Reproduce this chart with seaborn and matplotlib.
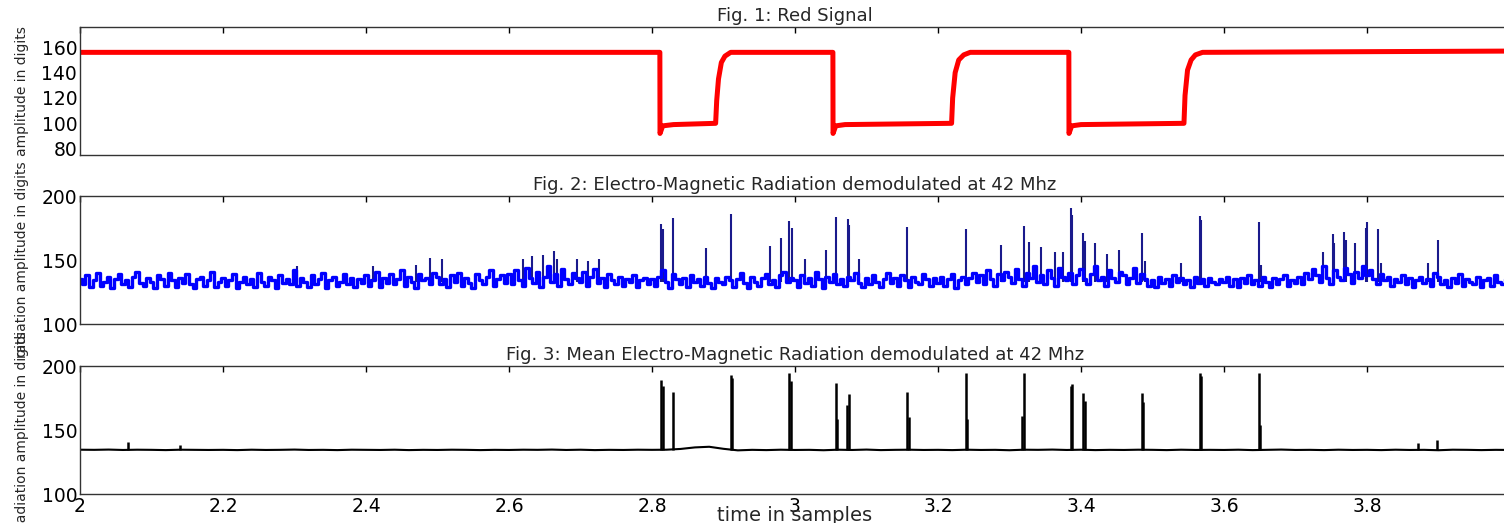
import matplotlib
matplotlib.use('Agg')
import matplotlib.pyplot as plt
import seaborn as sns
import numpy as np
from matplotlib.ticker import FormatStrFormatter, MultipleLocator

# Fig. 1: nivel de la señal roja (puntos de quiebre)
red_t = [2.0, 2.811, 2.8112, 2.815, 2.83, 2.889, 2.8905, 2.893, 2.897, 2.902, 2.91,
         3.053, 3.0532, 3.057, 3.07, 3.219, 3.2205, 3.224, 3.229, 3.236, 3.245,
         3.383, 3.3832, 3.387, 3.40, 3.544, 3.5455, 3.549, 3.554, 3.56, 3.57, 4.0]
red_v = [156, 156, 92, 98, 99, 100, 118, 135, 148, 153, 156,
         156, 92, 98, 99, 100, 120, 140, 150, 154, 156,
         156, 92, 98, 99, 100, 122, 142, 150, 154, 156, 157]

# Fig. 2: banda de ruido EMR, una muestra cada 0.005 desde t=2
emr_t0 = 2.0
emr_dt = 0.005
emr_band = [
    135, 131, 138, 129, 134, 140, 130, 133, 137, 128, 135, 139, 131, 134, 129, 137, 141, 132, 130, 136,
    133, 128, 138, 135, 130, 140, 134, 129, 136, 132, 139, 131, 128, 135, 137, 130, 134, 141, 129, 133,
    136, 130, 134, 139, 128, 133, 137, 131, 135, 129, 140, 133, 130, 137, 134, 128, 138, 132, 135, 131,
    142, 130, 136, 133, 129, 138, 131, 135, 140, 128, 134, 137, 130, 133, 139, 131, 136, 129, 135, 132,
    138, 130, 134, 141, 129, 136, 132, 139, 131, 135, 142, 130, 137, 133, 128, 139, 134, 136, 131, 140,
    137, 131, 135, 129, 138, 133, 140, 130, 136, 132, 128, 139, 134, 131, 137, 142, 130, 135, 138, 132,
    139, 131, 142, 134, 130, 144, 136, 132, 141, 129, 137, 145, 133, 139, 130, 143, 135, 131, 140, 136,
    133, 141, 130, 137, 143, 132, 136, 129, 139, 134, 131, 137, 130, 135, 133, 138, 129, 134, 136, 131,
    135, 130, 137, 142, 133, 128, 139, 135, 131, 136, 129, 138, 133, 135, 130, 137, 132, 128, 136, 133,
    131, 137, 134, 129, 135, 140, 132, 128, 137, 133, 130, 136, 139, 131, 134, 129, 138, 141, 133, 136,
    134, 129, 138, 132, 136, 130, 141, 135, 128, 137, 133, 139, 131, 135, 130, 137, 134, 140, 132, 129,
    136, 131, 138, 133, 129, 135, 140, 132, 136, 130, 138, 134, 129, 137, 133, 131, 139, 135, 130, 136,
    132, 137, 130, 135, 139, 128, 134, 137, 131, 136, 140, 133, 138, 131, 142, 135, 130, 139, 134, 141,
    137, 132, 143, 135, 130, 140, 136, 145, 133, 138, 131, 142, 136, 130, 144, 137, 134, 140, 131, 138,
    143, 135, 131, 139, 145, 134, 137, 130, 142, 136, 133, 141, 138, 131, 136, 144, 132, 139, 135, 130,
    134, 129, 137, 132, 135, 130, 138, 133, 136, 131, 134, 129, 137, 132, 135, 130, 136, 133, 131, 135,
    133, 137, 130, 135, 129, 136, 132, 138, 131, 134, 130, 137, 133, 129, 136, 131, 135, 138, 130, 134,
    132, 137, 131, 140, 135, 143, 138, 133, 145, 136, 131, 142, 137, 134, 144, 139, 132, 141, 136, 145,
    138, 142, 135, 131, 139, 134, 137, 130, 135, 133, 138, 131, 136, 129, 134, 137, 132, 135, 130, 140,
    137, 131, 134, 129, 136, 132, 139, 130, 135, 133, 131, 137, 129, 134, 136, 130, 138, 133, 131, 135,
    134,
]
# picos sobre la banda (tiempo, altura)
emr_spike_t = [2.303, 2.41, 2.47, 2.49, 2.506, 2.62, 2.632, 2.648, 2.663, 2.667, 2.695, 2.71, 2.726,
               2.8126, 2.815, 2.829, 2.876, 2.910, 2.965, 2.980, 2.992, 2.996, 3.014, 3.043, 3.058,
               3.074, 3.076, 3.09, 3.157, 3.239, 3.288, 3.320, 3.327, 3.344, 3.364, 3.375, 3.386,
               3.388, 3.403, 3.405, 3.42, 3.436, 3.453, 3.485, 3.49, 3.540, 3.566, 3.568, 3.649,
               3.652, 3.738, 3.752, 3.754, 3.768, 3.770, 3.783, 3.798, 3.800, 3.815, 3.82, 3.885, 3.899]
emr_spike_h = [145, 145, 146, 151.5, 151, 151, 153, 154, 157, 151, 151, 149, 151,
               178, 174, 183, 159, 186, 161, 167, 180.5, 175, 151, 158, 183.6,
               182, 177, 151, 176, 174, 162, 176.5, 164, 160, 156, 156, 191,
               185, 171, 165, 163, 155, 158, 171, 149, 148, 184, 181, 180,
               146, 156, 170, 163, 171.5, 166, 163, 175, 180, 174, 148, 148, 165.6]
emr_floor = 133

# Fig. 3: media EMR, una muestra cada 0.02 desde t=2
mean_t0 = 2.0
mean_dt = 0.02
mean_base = [
    134.6, 134.5, 134.7, 134.4, 134.6, 134.5, 134.3, 134.6, 134.5, 134.4,
    134.5, 134.3, 134.6, 134.4, 134.5, 134.7, 134.4, 134.5, 134.3, 134.6,
    134.5, 134.4, 134.6, 134.3, 134.5, 134.4, 134.6, 134.5, 134.3, 134.5,
    134.4, 134.6, 134.5, 134.7, 134.4, 134.6, 134.3, 134.5, 134.4, 134.6,
    134.5, 134.6, 135.2, 136.4, 136.9, 135.3, 134.1, 134.5, 134.3, 134.6,
    134.4, 134.5, 134.2, 134.6, 134.4, 134.7, 134.3, 134.5, 134.6, 134.4,
    134.5, 134.3, 134.6, 134.4, 134.5, 134.2, 134.6, 134.5, 134.7, 134.4,
    134.6, 134.3, 134.5, 134.4, 134.6, 134.5, 134.3, 134.6, 134.4, 134.5,
    134.4, 134.6, 134.3, 134.5, 134.7, 134.4, 134.5, 134.3, 134.6, 134.4,
    134.5, 134.3, 134.6, 134.4, 134.5, 134.2, 134.6, 134.5, 134.3, 134.5,
    134.4,
]
mean_spike_t = [2.067, 2.14, 2.8126, 2.815, 2.829, 2.910, 2.912, 2.992, 2.994, 3.057, 3.059,
                3.073, 3.075, 3.157, 3.159, 3.239, 3.241, 3.318, 3.320, 3.386, 3.388, 3.403,
                3.405, 3.485, 3.487, 3.566, 3.568, 3.649, 3.651, 3.871, 3.898]
mean_spike_h = [141, 138, 189, 184, 180, 193, 191, 194.5, 188, 187, 158.6,
                169.5, 178, 180, 160, 194.5, 158.6, 161, 194.5, 184, 186, 179,
                173, 179, 172, 194.5, 192, 194.5, 154, 140, 142]
mean_floor = 134.5

titulos = ['Fig. 1: Red Signal',
           'Fig. 2: Electro-Magnetic Radiation demodulated at 42 Mhz',
           'Fig. 3: Mean Electro-Magnetic Radiation demodulated at 42 Mhz']
etiquetas_y = ['amplitude in digits', 'radiation amplitude in digits', 'radiation amplitude in digits']

sns.set_theme(style='white')
plt.rcParams['font.family'] = ['DejaVu Sans']

fig = plt.figure(figsize=(15.04, 5.23), dpi=100)
izq, ancho, alto = 80 / 1504, 1430 / 1504, 128 / 523
ax1 = fig.add_axes([izq, 1 - 155 / 523, ancho, alto])
ax2 = fig.add_axes([izq, 1 - 324 / 523, ancho, alto])
ax3 = fig.add_axes([izq, 1 - 494 / 523, ancho, alto])

# 1. Señal roja
sns.lineplot(x=red_t, y=red_v, ax=ax1, color=(1, 0, 0), linewidth=3.6, estimator=None, sort=False)
ax1.set_ylim(75, 176)
ax1.yaxis.set_major_locator(MultipleLocator(20))

# 2. Radiación
t_emr = emr_t0 + emr_dt * np.arange(len(emr_band))
ax2.vlines(emr_spike_t, emr_floor, emr_spike_h, color='#1a1a8c', linewidth=1.5)
sns.lineplot(x=t_emr, y=emr_band, ax=ax2, color=(0, 0, 1), linewidth=2.4,
             drawstyle='steps-mid', estimator=None)

# 3. Media
t_mean = mean_t0 + mean_dt * np.arange(len(mean_base))
ax3.vlines(mean_spike_t, mean_floor, mean_spike_h, color='black', linewidth=1.8)
sns.lineplot(x=t_mean, y=mean_base, ax=ax3, color='black', linewidth=1.5, estimator=None)

for ax in (ax2, ax3):
    ax.set_ylim(100, 200)
    ax.yaxis.set_major_locator(MultipleLocator(50))

for ax, titulo, ety in zip((ax1, ax2, ax3), titulos, etiquetas_y):
    ax.set_xlim(2, 4)
    ax.xaxis.set_major_locator(MultipleLocator(0.2))
    ax.xaxis.set_major_formatter(FormatStrFormatter('%g'))
    ax.tick_params(direction='in', length=4.5, width=1, top=True, right=True,
                   labelsize=13.5, colors='black', pad=2)
    ax.set_title(titulo, fontsize=13, pad=4)
    ax.set_ylabel(ety, fontsize=10)
    ax.yaxis.set_label_coords(-0.036, 0.5)
    ax.set_xlabel('')
    for lado in ax.spines.values():
        lado.set_color('#333333')
        lado.set_linewidth(1)
    if ax is not ax3:
        ax.tick_params(labelbottom=False)

ax3.set_xlabel('time in samples', fontsize=14, labelpad=-7)

plt.savefig('out.png', dpi=100)
plt.close()
